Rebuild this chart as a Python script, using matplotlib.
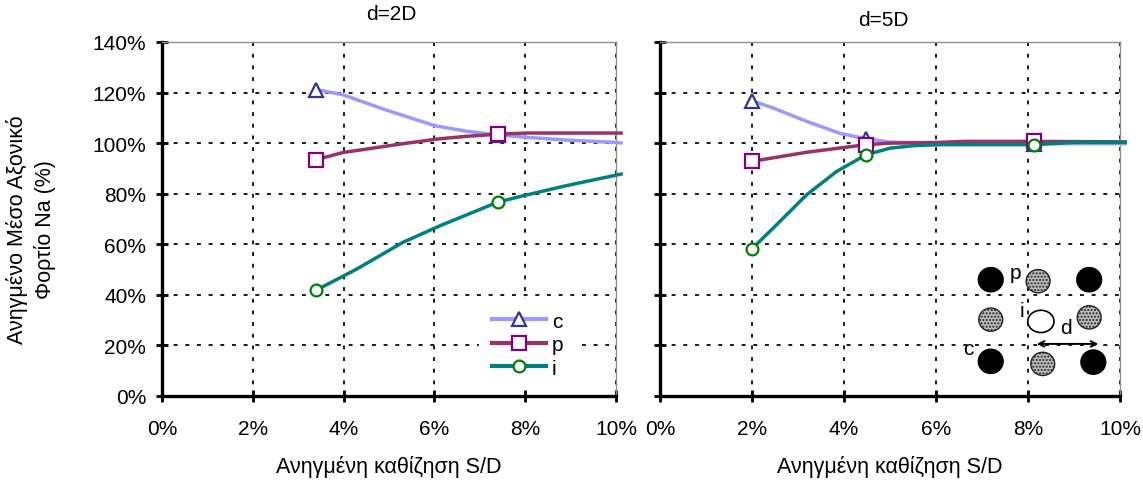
import matplotlib
matplotlib.use('Agg')
import matplotlib.pyplot as plt
from matplotlib.patches import Ellipse
from matplotlib.ticker import FuncFormatter

plt.rcParams['font.family'] = ['Liberation Sans', 'DejaVu Sans']

# d=2D : curve points (S/D %, Na %) and marker points
x2_c = [3.4, 3.99, 4.87, 6.01, 6.71, 7.37, 8.03, 8.91, 9.98, 10.15]
y2_c = [121.2, 119.1, 113.5, 106.9, 104.7, 103.3, 102.3, 101.2, 100.3, 100.0]
x2_p = [3.4, 3.99, 5.24, 6.05, 6.71, 7.37, 8.03, 10.15]
y2_p = [93.5, 96.3, 99.6, 101.6, 102.7, 103.5, 104.0, 104.0]
x2_i = [3.4, 4.29, 5.31, 6.12, 7.4, 7.96, 8.91, 10.15]
y2_i = [41.9, 50.2, 60.8, 67.3, 76.7, 79.2, 83.2, 87.9]
m2_x = [3.4, 7.4]
m2_c = [121.2, 103.3]
m2_p = [93.5, 103.5]
m2_i = [41.9, 76.7]

# d=5D
x5_c = [2.0, 2.46, 3.19, 3.91, 4.48, 5.0, 6.09, 8.13, 10.15]
y5_c = [116.8, 113.9, 108.6, 103.9, 101.7, 100.4, 100.0, 99.8, 99.8]
x5_p = [2.0, 3.19, 4.48, 5.0, 6.09, 6.6, 8.13, 10.15]
y5_p = [92.8, 96.4, 99.4, 100.0, 100.3, 100.7, 100.7, 100.5]
x5_i = [2.0, 2.46, 3.19, 3.84, 4.48, 5.0, 5.51, 6.09, 8.13, 8.98, 10.15]
y5_i = [58.2, 66.4, 79.6, 88.8, 95.4, 98.0, 99.0, 99.4, 99.4, 100.3, 100.3]
m5_x = [2.0, 4.48, 8.13]
m5_c = [116.8, 101.7, 99.8]
m5_p = [92.8, 99.4, 100.7]
m5_i = [58.2, 95.4, 99.4]

labels = ['c', 'p', 'i']
line_colors = ['#9999ff', '#993366', '#008080']
edge_colors = ['#333399', '#800080', '#008000']
markers = ['^', 's', 'o']
msizes = [10.5, 9.5, 8.5]

fig = plt.figure(figsize=(11.43, 4.85), dpi=100)
ax1 = fig.add_axes([162 / 1143, 1 - 397 / 485, 454 / 1143, 354 / 485])
ax2 = fig.add_axes([660 / 1143, 1 - 397 / 485, 460 / 1143, 354 / 485])

pct = FuncFormatter(lambda v, pos: '%d%%' % round(v))
FS = 15


def style(ax, show_y):
    ax.set_xlim(0, 10)
    ax.set_ylim(0, 140)
    ax.set_xticks(range(0, 11, 2))
    ax.set_yticks(range(0, 141, 20))
    ax.xaxis.set_major_formatter(pct)
    ax.yaxis.set_major_formatter(pct)
    ax.grid(True, color='#1a1a1a', linestyle=(0, (2, 4)), linewidth=1.4)
    ax.set_axisbelow(True)
    for s in ('top', 'right'):
        ax.spines[s].set_color('#909090')
        ax.spines[s].set_linewidth(1.0)
    for s in ('left', 'bottom'):
        ax.spines[s].set_color('black')
        ax.spines[s].set_linewidth(2.4)
    ax.tick_params(axis='both', direction='inout', length=9, width=2,
                   labelsize=FS)
    ax.tick_params(axis='x', pad=12)
    ax.tick_params(axis='y', pad=7)
    if not show_y:
        ax.tick_params(axis='y', labelleft=False)
    ax.set_xlabel('Ανηγμένη καθίζηση S/D', fontsize=15.5, labelpad=12)


def draw(ax, curves, mx, mys):
    handles = []
    for k, (xs, ys) in enumerate(curves):
        ax.plot(xs, ys, color=line_colors[k], lw=2.5, clip_on=False,
                solid_capstyle='butt', solid_joinstyle='round', zorder=3)
        ax.plot(mx, mys[k], linestyle='none', marker=markers[k],
                ms=msizes[k], mfc='white', mec=edge_colors[k], mew=1.6,
                clip_on=False, zorder=4)
        h, = ax.plot([], [], color=line_colors[k], lw=3, marker=markers[k],
                     ms=msizes[k], mfc='white', mec=edge_colors[k], mew=1.6)
        handles.append(h)
    return handles


style(ax1, True)
style(ax2, False)
hs = draw(ax1, [(x2_c, y2_c), (x2_p, y2_p), (x2_i, y2_i)], m2_x,
          [m2_c, m2_p, m2_i])
draw(ax2, [(x5_c, y5_c), (x5_p, y5_p), (x5_i, y5_i)], m5_x,
     [m5_c, m5_p, m5_i])

leg = ax1.legend(hs, labels, loc='center', bbox_to_anchor=(0.805, 0.145),
                 fontsize=15, frameon=True, fancybox=False, framealpha=1,
                 handlelength=2.6, handletextpad=0.3, labelspacing=0.22,
                 borderpad=0.6)
leg.get_frame().set_edgecolor('none')
leg.get_frame().set_facecolor('white')

# pile layout sketch in the d=5D panel
black = [(7.19, 46.0), (9.33, 46.0), (7.19, 13.7), (9.42, 13.4)]
gray = [(8.22, 45.4), (7.19, 30.2), (9.33, 31.1), (8.32, 12.7)]
for (px, py) in black:
    ax2.add_patch(Ellipse((px, py), 0.54, 9.6, facecolor='black',
                          edgecolor='black', zorder=5))
for (px, py) in gray:
    ax2.add_patch(Ellipse((px, py), 0.52, 9.2, facecolor='#bdbdbd',
                          edgecolor='#222222', lw=1, hatch='.....',
                          zorder=5))
ax2.add_patch(Ellipse((8.28, 29.5), 0.57, 8.8, facecolor='white',
                      edgecolor='black', lw=1.2, zorder=5))
ax2.annotate('', xy=(8.19, 20.6), xytext=(9.53, 20.6),
             arrowprops=dict(arrowstyle='<->', color='black', lw=1.4,
                             shrinkA=0, shrinkB=0), zorder=6)
for t, px, py in [('p', 7.72, 49.0), ('i', 7.86, 33.7), ('d', 8.82, 27.2),
                  ('c', 6.70, 18.7)]:
    ax2.text(px, py, t, fontsize=15, ha='center', va='center', zorder=6)

fig.text(391 / 1143, 1 - 15 / 485, 'd=2D', fontsize=FS, ha='center',
         va='center')
fig.text(883 / 1143, 1 - 20 / 485, 'd=5D', fontsize=FS, ha='center',
         va='center')
fig.text(31 / 1143, 1 - 230 / 485, 'Ανηγμένο Μέσο Αξονικό\nΦορτίο Na (%)',
         fontsize=15.5, rotation=90, ha='center', va='center',
         multialignment='center', linespacing=1.3)

fig.savefig('out.png', dpi=100)
